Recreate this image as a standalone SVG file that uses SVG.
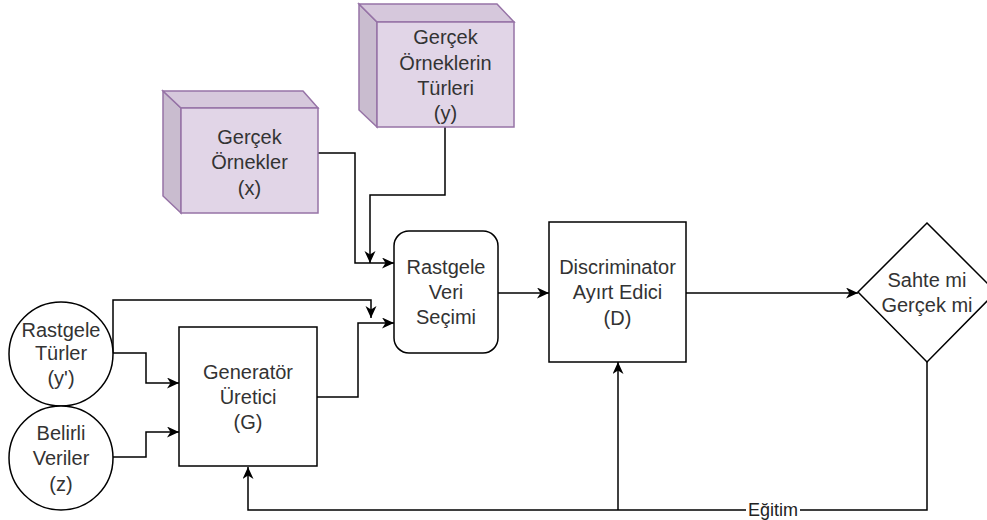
<svg xmlns="http://www.w3.org/2000/svg" width="987" height="520" viewBox="0 0 987 520">
<style>
.t{font-family:"Liberation Sans",Arial,sans-serif;font-size:20px;fill:#333333;text-anchor:middle}
.lbl{font-family:"Liberation Sans",Arial,sans-serif;font-size:18px;fill:#222222;text-anchor:middle}
.shape{fill:#ffffff;stroke:#000000;stroke-width:1.5}
.front{fill:#e1d5e7;stroke:#9673a6;stroke-width:1.5}
.side{fill:#c9bccf;stroke:#9673a6;stroke-width:1.5}
.top{fill:#d6c8dc;stroke:#9673a6;stroke-width:1.5}
.edge{fill:none;stroke:#000000;stroke-width:1.5}
</style>
<defs>
<marker id="arr" markerUnits="userSpaceOnUse" markerWidth="14" markerHeight="12" refX="12" refY="5.5" orient="auto">
<path d="M0,0 L12,5.5 L0,11 L3.5,5.5 Z" fill="#000000"/>
</marker>
</defs>
<rect width="987" height="520" fill="#ffffff"/>

<g id="connectors">
<path class="edge" d="M318,153 H355 V263 H394" marker-end="url(#arr)"/>
<path class="edge" d="M445,127 V195 H370 V263" marker-end="url(#arr)"/>
<path class="edge" d="M113,353 V300 H371 V318" marker-end="url(#arr)"/>
<path class="edge" d="M113,353 H146 V383 H179" marker-end="url(#arr)"/>
<path class="edge" d="M113,457 H146 V432 H179" marker-end="url(#arr)"/>
<path class="edge" d="M317,397 H358 V323 H394" marker-end="url(#arr)"/>
<path class="edge" d="M498,293 H549" marker-end="url(#arr)"/>
<path class="edge" d="M686,293 H858" marker-end="url(#arr)"/>
<path class="edge" d="M927,362 V510 H248 V467" marker-end="url(#arr)"/>
<path class="edge" d="M618,510 V362" marker-end="url(#arr)"/>
<rect x="746" y="501" width="54" height="18" fill="#ffffff"/>
<text class="lbl" x="773" y="516">Eğitim</text>
</g>

<g id="gercek-ornekler">
<polygon class="side" points="163,91 181,108 181,213 163,196"/>
<polygon class="top" points="163,91 303,91 318,108 181,108"/>
<rect class="front" x="181" y="108" width="137" height="105"/>
<text class="t" x="249.5" y="144">Gerçek</text>
<text class="t" x="249.5" y="169">Örnekler</text>
<text class="t" x="249.5" y="195">(x)</text>
</g>

<g id="gercek-orneklerin-turleri">
<polygon class="side" points="359,4 377,22 377,127 359,110"/>
<polygon class="top" points="359,4 497,4 514,22 377,22"/>
<rect class="front" x="377" y="22" width="137" height="105"/>
<text class="t" x="445.5" y="44">Gerçek</text>
<text class="t" x="445.5" y="70">Örneklerin</text>
<text class="t" x="445.5" y="95">Türleri</text>
<text class="t" x="445.5" y="120">(y)</text>
</g>

<g id="rastgele-turler">
<circle class="shape" cx="61" cy="354" r="52"/>
<text class="t" x="61" y="337">Rastgele</text>
<text class="t" x="61" y="360">Türler</text>
<text class="t" x="61" y="385">(y')</text>
</g>

<g id="belirli-veriler">
<circle class="shape" cx="61" cy="458" r="52"/>
<text class="t" x="61" y="440">Belirli</text>
<text class="t" x="61" y="465">Veriler</text>
<text class="t" x="61" y="491">(z)</text>
</g>

<g id="generator">
<rect class="shape" x="179" y="327" width="138" height="139"/>
<text class="t" x="248" y="379">Generatör</text>
<text class="t" x="248" y="404">Üretici</text>
<text class="t" x="248" y="429">(G)</text>
</g>

<g id="rastgele-veri-secimi">
<rect class="shape" x="394" y="231" width="104" height="122" rx="15" ry="15"/>
<text class="t" x="446" y="274">Rastgele</text>
<text class="t" x="446" y="299">Veri</text>
<text class="t" x="446" y="324">Seçimi</text>
</g>

<g id="discriminator">
<rect class="shape" x="549" y="222" width="137" height="140"/>
<text class="t" x="617.5" y="274">Discriminator</text>
<text class="t" x="617.5" y="299">Ayırt Edici</text>
<text class="t" x="617.5" y="325">(D)</text>
</g>

<g id="sahte-mi-gercek-mi">
<polygon class="shape" points="927,223 996,292 927,362 858,292"/>
<text class="t" x="927" y="287">Sahte mi</text>
<text class="t" x="927" y="312">Gerçek mi</text>
</g>
</svg>
